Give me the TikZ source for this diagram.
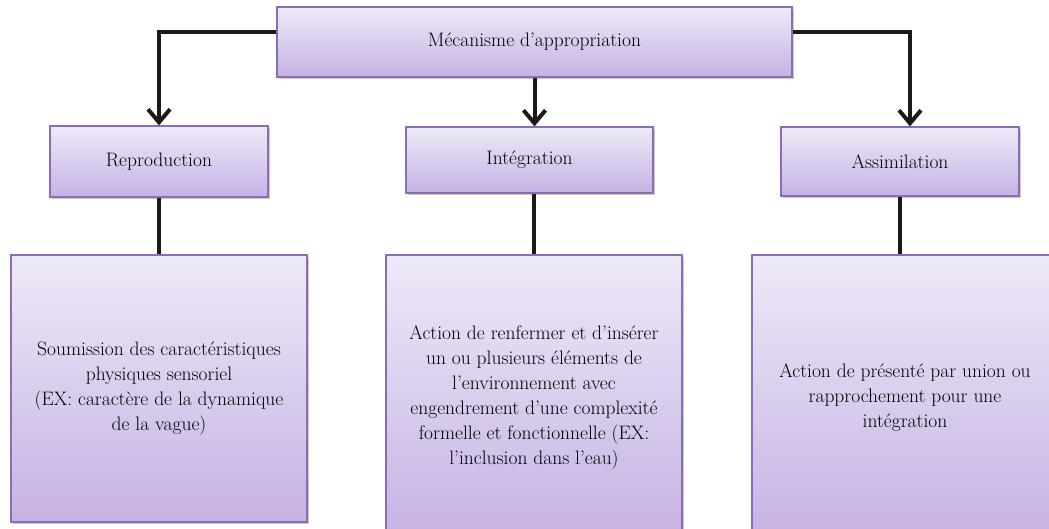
\documentclass[tikz,border=0pt]{standalone}
\usepackage{fontspec}
\usetikzlibrary{arrows.meta,shadows}
\definecolor{boxtop}{HTML}{EEE9F8}
\definecolor{boxbot}{HTML}{C5B2E3}
\definecolor{boxline}{HTML}{8C6DB5}
\definecolor{conn}{HTML}{1C1A14}
\tikzset{
  pbox/.style={draw=boxline, line width=1.3pt, top color=boxtop, bottom color=boxbot,
    rectangle, inner sep=0pt, align=center, text=black,
    font=\rmfamily\fontsize{19.5}{25}\selectfont,
    drop shadow={shadow xshift=2pt, shadow yshift=-2pt, fill=black!35, opacity=0.6}},
  conline/.style={draw=conn, line width=4pt},
  conarrow/.style={conline, -{Straight Barb[length=13pt,width=22pt,line width=4pt]}}
}
\begin{document}
\begin{tikzpicture}[x=1pt,y=-1pt]
\useasboundingbox (0,0) rectangle (1049,528);
\clip (0,0) rectangle (1049,528);
\node[pbox, minimum width=515pt, minimum height=70pt] (top) at (534.5,42) {Mécanisme d’appropriation};
\node[pbox, minimum width=218pt, minimum height=71pt] (rep) at (159,161.5) {Reproduction};
\node[pbox, minimum width=247pt, minimum height=66pt] (integ) at (529.5,160) {Intégration};
\node[pbox, minimum width=238pt, minimum height=69pt] (assim) at (900,161.5) {Assimilation};
\node[pbox, minimum width=296pt, minimum height=267pt] (bl) at (159,388.5)
  {Soumission des caractéristiques\\physiques sensoriel\\(EX: caractère de la dynamique\\de la vague)};
\node[pbox, minimum width=296pt, minimum height=285pt] (bm) at (534,397.5)
  {Action de renfermer et d’insérer\\un ou plusieurs éléments de\\l’environnement avec\\engendrement d’une complexité\\formelle et fonctionnelle (EX:\\l’inclusion dans l’eau)};
\node[pbox, minimum width=306pt, minimum height=285pt] (br) at (905,397.5)
  {Action de présenté par union ou\\rapprochement pour une\\intégration};
\coordinate (tl) at ([yshift=10pt]top.west);
\coordinate (tr) at ([yshift=10pt]top.east);
\coordinate (an) at ([xshift=10pt]assim.north);
\draw[conarrow] (tl) -| (rep.north);
\draw[conarrow] (tr) -| (an);
\draw[conarrow] (top.south) -- (top.south |- integ.north);
\draw[conline] (rep.south) -- (bl.north);
\draw[conline] (bm.north |- integ.south) -- (bm.north);
\draw[conline] (assim.south) -- (assim.south |- br.north);
\end{tikzpicture}
\end{document}
